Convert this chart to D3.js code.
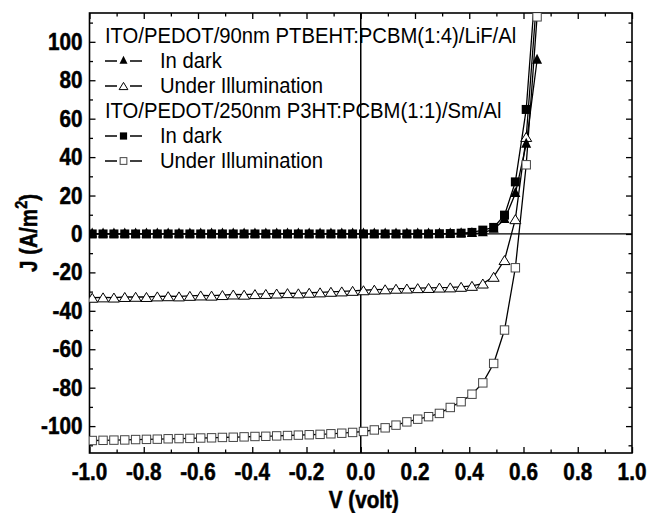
<!DOCTYPE html>
<html>
<head>
<meta charset="utf-8">
<script src="https://cdn.jsdelivr.net/npm/d3@7"></script>
<style>
  html, body { margin: 0; padding: 0; background: #fff; }
  svg { display: block; }
  text { font-family: "Liberation Sans", Arial, sans-serif; fill: #000; }
</style>
</head>
<body>
<div id="chart"></div>
<script>
// voltage grid (V)
const voltage = [-0.99,-0.95,-0.91,-0.87,-0.83,-0.79,-0.75,-0.71,-0.67,-0.63,
  -0.59,-0.55,-0.51,-0.47,-0.43,-0.39,-0.35,-0.31,-0.27,-0.23,
  -0.19,-0.15,-0.11,-0.07,-0.03,0.01,0.05,0.09,0.13,0.17,
  0.21,0.25,0.29,0.33,0.37,0.41,0.45,0.49,0.53,0.57,0.61,0.65];

// PTBEHT:PCBM(1:4) in dark (filled triangles)
const ptbehtDark = [0,0,0,0,0,0,0,0,0,0,
  0,0,0,0,0,0,0,0,0,0,
  0,0,0,0,0,0,0,0,0,0,
  0,0,0,0,0.1,0.2,0.6,2.5,7.5,21,46.7,90.4];

// PTBEHT:PCBM(1:4) under illumination (open triangles)
const ptbehtLight = [-33.2,-33.0,-33.1,-32.8,-32.7,-32.8,-32.5,-32.4,-32.5,-32.2,
  -32.0,-32.1,-31.8,-31.5,-31.6,-31.3,-31.2,-31.0,-30.8,-30.9,
  -30.6,-30.4,-30.1,-29.9,-29.6,-29.3,-29.0,-28.8,-28.5,-28.4,
  -28.2,-28.1,-27.9,-27.8,-27.5,-27.0,-25.8,-22.3,-13.6,7.7,50.5,125];

// P3HT:PCBM(1:1) in dark (filled squares)
const p3htDark = [0,0,0,0,0,0,0,0,0,0,
  0,0,0,0,0,0,0,0,0,0,
  0,0,0,0,0,0,0,0,0,0,
  0,0,0.1,0.2,0.4,0.8,2.0,3.4,9.8,27.1,64.8,140];

// P3HT:PCBM(1:1) under illumination (open squares)
const p3htLight = [-107.5,-107.4,-107.3,-107.2,-107.0,-106.9,-106.8,-106.6,-106.5,-106.4,
  -106.2,-106.1,-105.9,-105.8,-105.6,-105.4,-105.3,-105.1,-104.9,-104.7,
  -104.5,-104.3,-104.0,-103.7,-103.3,-102.8,-102.0,-100.9,-99.5,-97.8,
  -96.4,-95.1,-93.4,-90.3,-87.3,-83.4,-77.5,-67.4,-50.0,-17.6,36.0,113];

const xTicks = [-1.0,-0.8,-0.6,-0.4,-0.2,0.0,0.2,0.4,0.6,0.8,1.0];
const xMinor = [-0.9,-0.7,-0.5,-0.3,-0.1,0.1,0.3,0.5,0.7,0.9];
const yTicks = [-100,-80,-60,-40,-20,0,20,40,60,80,100];
const yMinor = [-110,-90,-70,-50,-30,-10,10,30,50,70,90,110];

const legendRows = [
  { label: "ITO/PEDOT/90nm PTBEHT:PCBM(1:4)/LiF/Al", sym: null },
  { label: "In dark", sym: "triFill" },
  { label: "Under Illumination", sym: "triOpen" },
  { label: "ITO/PEDOT/250nm P3HT:PCBM(1:1)/Sm/Al", sym: null },
  { label: "In dark", sym: "sqFill" },
  { label: "Under Illumination", sym: "sqOpen" }
];

const W = 650, H = 513;
const pL = 89.5, pR = 632, pT = 13, pB = 453;
const SX = 0.9; // glyphs in the picture are a bit narrow

const svg = d3.select("#chart").append("svg")
  .attr("width", W).attr("height", H);

const x = d3.scaleLinear().domain([-1, 1]).range([pL, pR]);
const y = d3.scaleLinear().domain([-114, 115]).range([pB, pT]);

// text helper, squeezed horizontally around its anchor
function label(g, px, py, str, size, weight, anchor) {
  const t = g.append("text")
    .attr("transform", `translate(${px},${py}) scale(${SX},1)`)
    .attr("text-anchor", anchor || "start")
    .style("font-size", size + "px")
    .style("font-weight", weight || "normal")
    .text(str);
  if (weight === "bold") t.attr("stroke", "#000").attr("stroke-width", 0.5);
  return t;
}
const fmtX = v => v.toFixed(1); // plain hyphen minus, as in the picture

svg.append("clipPath").attr("id", "plot")
  .append("rect")
  .attr("x", pL).attr("y", pT)
  .attr("width", pR - pL).attr("height", pB - pT);

// zero lines
svg.append("line")
  .attr("x1", pL).attr("x2", pR)
  .attr("y1", y(0)).attr("y2", y(0))
  .attr("stroke", "#000").attr("stroke-width", 1.3);
svg.append("line")
  .attr("x1", x(0)).attr("x2", x(0))
  .attr("y1", pT).attr("y2", pB)
  .attr("stroke", "#000").attr("stroke-width", 1.5);

// axes with inward ticks on all four sides
const axisStyle = g => {
  g.select(".domain").remove();
  g.selectAll("line").attr("stroke", "#000").attr("stroke-width", 1.3);
};
const yMinorIn = yMinor.filter(v => y(v) > pT);
svg.append("g").attr("transform", `translate(0,${pB})`)
  .call(d3.axisBottom(x).tickValues(xTicks).tickSize(-6).tickFormat(""))
  .call(axisStyle);
svg.append("g").attr("transform", `translate(0,${pB})`)
  .call(d3.axisBottom(x).tickValues(xMinor).tickSize(-3.5).tickFormat(""))
  .call(axisStyle);
svg.append("g").attr("transform", `translate(0,${pT})`)
  .call(d3.axisTop(x).tickValues(xTicks).tickSize(-6).tickFormat(""))
  .call(axisStyle);
svg.append("g").attr("transform", `translate(0,${pT})`)
  .call(d3.axisTop(x).tickValues(xMinor).tickSize(-3.5).tickFormat(""))
  .call(axisStyle);
svg.append("g").attr("transform", `translate(${pL},0)`)
  .call(d3.axisLeft(y).tickValues(yTicks).tickSize(-6).tickFormat(""))
  .call(axisStyle);
svg.append("g").attr("transform", `translate(${pL},0)`)
  .call(d3.axisLeft(y).tickValues(yMinorIn).tickSize(-3.5).tickFormat(""))
  .call(axisStyle);
svg.append("g").attr("transform", `translate(${pR},0)`)
  .call(d3.axisRight(y).tickValues(yTicks).tickSize(-6).tickFormat(""))
  .call(axisStyle);
svg.append("g").attr("transform", `translate(${pR},0)`)
  .call(d3.axisRight(y).tickValues(yMinorIn).tickSize(-3.5).tickFormat(""))
  .call(axisStyle);

// frame
svg.append("rect")
  .attr("x", pL).attr("y", pT)
  .attr("width", pR - pL).attr("height", pB - pT)
  .attr("fill", "none").attr("stroke", "#000").attr("stroke-width", 1.6);

// tick labels
const tl = svg.append("g");
xTicks.forEach(v => label(tl, x(v), pB + 27, fmtX(v), 23, "bold", "middle"));
yTicks.forEach(v => label(tl, pL - 7, y(v) + 8, String(v), 23, "bold", "end"));

// axis titles
label(svg, x(0) + 3, 508, "V (volt)", 23, "bold", "middle");
const yt = svg.append("text")
  .attr("transform", `translate(37,${(pT + pB) / 2}) rotate(-90) scale(${SX},1)`)
  .attr("text-anchor", "middle")
  .attr("stroke", "#000").attr("stroke-width", 0.5)
  .style("font-size", "23px").style("font-weight", "bold");
yt.append("tspan").text("J (A/m");
yt.append("tspan").attr("dy", -10).style("font-size", "16px").text("2");
yt.append("tspan").attr("dy", 10).text(")");

// markers
function triPath(cx, cy, w, up, down) {
  return `M${cx - w / 2},${cy + down}L${cx + w / 2},${cy + down}L${cx},${cy - up}Z`;
}
function drawSym(g, type, cx, cy, k) {
  k = k || 1;
  if (type === "triFill") {
    g.append("path").attr("d", triPath(cx, cy, 10 * k, 6.5 * k, 3.5 * k)).attr("fill", "#000");
  } else if (type === "triOpen") {
    g.append("path").attr("d", triPath(cx, cy, 11 * k, 4.5 * k, 4.5 * k))
      .attr("fill", "#fff").attr("stroke", "#000").attr("stroke-width", 1);
  } else if (type === "sqFill") {
    g.append("rect").attr("x", cx - 4.5 * k).attr("y", cy - 4.5 * k)
      .attr("width", 9 * k).attr("height", 9 * k).attr("fill", "#000");
  } else if (type === "sqOpen") {
    g.append("rect").attr("x", cx - 4.2 * k).attr("y", cy - 4.2 * k)
      .attr("width", 8.4 * k).attr("height", 8.4 * k)
      .attr("fill", "#fff").attr("stroke", "#444").attr("stroke-width", 1);
  }
}

// squares first so the filled triangles show on top of them near J = 0
const series = [
  { vals: p3htLight, sym: "sqOpen" },
  { vals: ptbehtLight, sym: "triOpen" },
  { vals: p3htDark, sym: "sqFill" },
  { vals: ptbehtDark, sym: "triFill" }
];

const plot = svg.append("g").attr("clip-path", "url(#plot)");
const line = d3.line().x(d => x(d[0])).y(d => y(d[1]));

series.forEach(s => {
  plot.append("path")
    .datum(voltage.map((v, i) => [v, s.vals[i]]))
    .attr("d", line)
    .attr("fill", "none").attr("stroke", "#000").attr("stroke-width", 1.3);
});
series.forEach(s => {
  const g = plot.append("g");
  voltage.forEach((v, i) => drawSym(g, s.sym, x(v), y(s.vals[i])));
});

// legend
const lg = svg.append("g");
legendRows.forEach((r, i) => {
  const base = 43 + i * 25;
  if (r.sym) {
    const cy = base - 7;
    lg.append("line").attr("x1", 105).attr("x2", 117).attr("y1", cy).attr("y2", cy)
      .attr("stroke", "#000").attr("stroke-width", 1.5);
    lg.append("line").attr("x1", 130).attr("x2", 142).attr("y1", cy).attr("y2", cy)
      .attr("stroke", "#000").attr("stroke-width", 1.5);
    drawSym(lg, r.sym, 123.5, cy, 0.8);
    label(lg, 160, base, r.label, 22.5, "normal");
  } else {
    label(lg, 105, base, r.label, 22.5, "normal");
  }
});
</script>
</body>
</html>
